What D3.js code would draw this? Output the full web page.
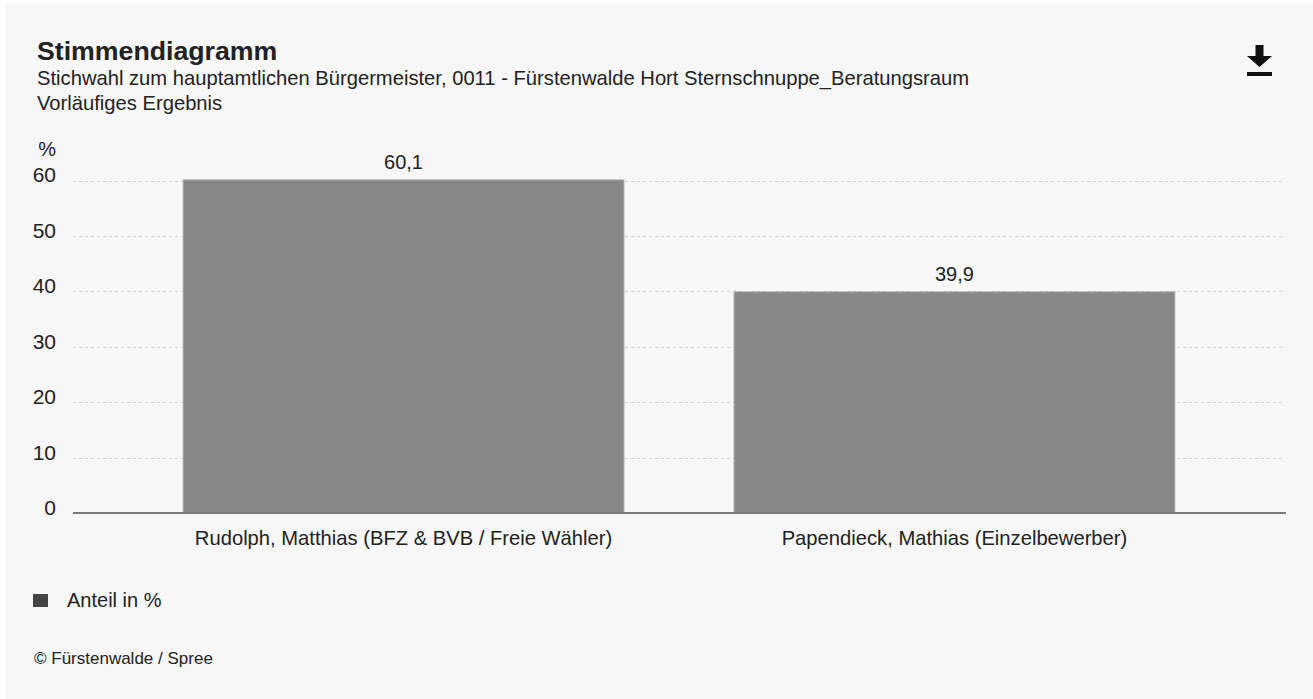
<!doctype html>
<html>
<head>
<meta charset="utf-8">
<script src="https://cdnjs.cloudflare.com/ajax/libs/d3/7.8.5/d3.min.js"></script>
<style>
  body { margin: 0; background: #fff; }
  svg { display: block; font-family: Arial, "Liberation Sans", sans-serif; }
</style>
</head>
<body>
<svg id="chart" width="1313" height="699"></svg>
<script>
    // data
    var candidates = ["Rudolph, Matthias (BFZ & BVB / Freie Wähler)", "Papendieck, Mathias (Einzelbewerber)"];
    var shares = [60.1, 39.9];
    var yTicks = [0, 10, 20, 30, 40, 50, 60];

    var title = "Stimmendiagramm";
    var subtitle = "Stichwahl zum hauptamtlichen Bürgermeister, 0011 - Fürstenwalde Hort Sternschnuppe_Beratungsraum";
    var subtitle2 = "Vorläufiges Ergebnis";
    var legendLabel = "Anteil in %";
    var credit = "© Fürstenwalde / Spree";

    var svg = d3.select("#chart");

    svg.append("rect")
        .attr("x", 6).attr("y", 3)
        .attr("width", 1313).attr("height", 699)
        .style("fill", "#f7f7f7");

    var plotLeft = 73, plotRight = 1285, plotTop = 180.5, plotBottom = 513;

    var x = d3.scaleBand()
        .domain(candidates)
        .range([plotLeft, plotRight])
        .paddingInner(0.2)
        .paddingOuter(0.2);

    var y = d3.scaleLinear()
        .domain([0, 60])
        .range([plotBottom, plotTop]);

    // titles
    svg.append("text")
        .attr("x", 37).attr("y", 60)
        .style("font-size", "26.7px").style("font-weight", "bold").style("fill", "#222")
        .text(title);
    svg.append("text")
        .attr("x", 37).attr("y", 85)
        .style("font-size", "20.2px").style("fill", "#222")
        .text(subtitle);
    svg.append("text")
        .attr("x", 37).attr("y", 110)
        .style("font-size", "20.2px").style("fill", "#222")
        .text(subtitle2);

    // download icon
    var icon = svg.append("g").attr("transform", "translate(1259.5,45)");
    icon.append("path")
        .attr("d", "M-4,0 H4 V11 H12.5 L0,22 L-12.5,11 H-4 Z")
        .style("fill", "#111");
    icon.append("rect")
        .attr("x", -12.5).attr("y", 27).attr("width", 25).attr("height", 4)
        .style("fill", "#111");

    // grid
    svg.append("g")
        .selectAll("line")
        .data(yTicks.filter(d => d > 0))
        .enter()
        .append("line")
        .attr("x1", plotLeft).attr("x2", plotRight)
        .attr("y1", d => Math.round(y(d)) + 0.5).attr("y2", d => Math.round(y(d)) + 0.5)
        .style("stroke", "#d2d2d2")
        .style("stroke-dasharray", "3,3");

    // y axis labels
    var yAxis = svg.append("g")
        .attr("transform", "translate(56,0)")
        .call(d3.axisLeft(y).tickValues(yTicks).tickSize(0).tickPadding(0));
    yAxis.select(".domain").remove();
    yAxis.selectAll("text")
        .style("font-size", "21px").style("fill", "#222")
        .style("font-family", "Arial, 'Liberation Sans', sans-serif")
        .attr("dy", "0.07em");

    svg.append("text")
        .attr("x", 56).attr("y", 156)
        .attr("text-anchor", "end")
        .style("font-size", "20px").style("fill", "#222")
        .text("%");

    // bars
    svg.append("g")
        .selectAll("rect")
        .data(shares)
        .enter()
        .append("rect")
        .attr("x", (d, i) => x(candidates[i]))
        .attr("y", d => y(d))
        .attr("width", x.bandwidth())
        .attr("height", d => plotBottom - y(d))
        .style("fill", "#878787")
        .style("stroke", "#a8a8a8")
        .style("stroke-width", 1);

    // value labels
    svg.append("g")
        .selectAll("text")
        .data(shares)
        .enter()
        .append("text")
        .attr("x", (d, i) => x(candidates[i]) + x.bandwidth() / 2)
        .attr("y", d => y(d) - 11)
        .attr("text-anchor", "middle")
        .style("font-size", "20px").style("fill", "#222")
        .text(d => d3.format(".1f")(d).replace(".", ","));

    // baseline
    svg.append("line")
        .attr("x1", plotLeft).attr("x2", plotRight + 1)
        .attr("y1", plotBottom).attr("y2", plotBottom)
        .style("stroke", "#7a7a7a")
        .style("stroke-width", 2);

    // category labels
    var xAxis = svg.append("g")
        .attr("transform", "translate(0," + plotBottom + ")")
        .call(d3.axisBottom(x).tickSize(0).tickPadding(0));
    xAxis.select(".domain").remove();
    xAxis.selectAll("text")
        .attr("y", 32).attr("dy", 0)
        .style("font-size", "20.2px").style("fill", "#222")
        .style("font-family", "Arial, 'Liberation Sans', sans-serif");

    // legend
    svg.append("rect")
        .attr("x", 33).attr("y", 594).attr("width", 15).attr("height", 13)
        .style("fill", "#444");
    svg.append("text")
        .attr("x", 67).attr("y", 607)
        .style("font-size", "20px").style("fill", "#222")
        .text(legendLabel);

    // credit
    svg.append("text")
        .attr("x", 34).attr("y", 664)
        .style("font-size", "17px").style("fill", "#222")
        .text(credit);
</script>
</body>
</html>
